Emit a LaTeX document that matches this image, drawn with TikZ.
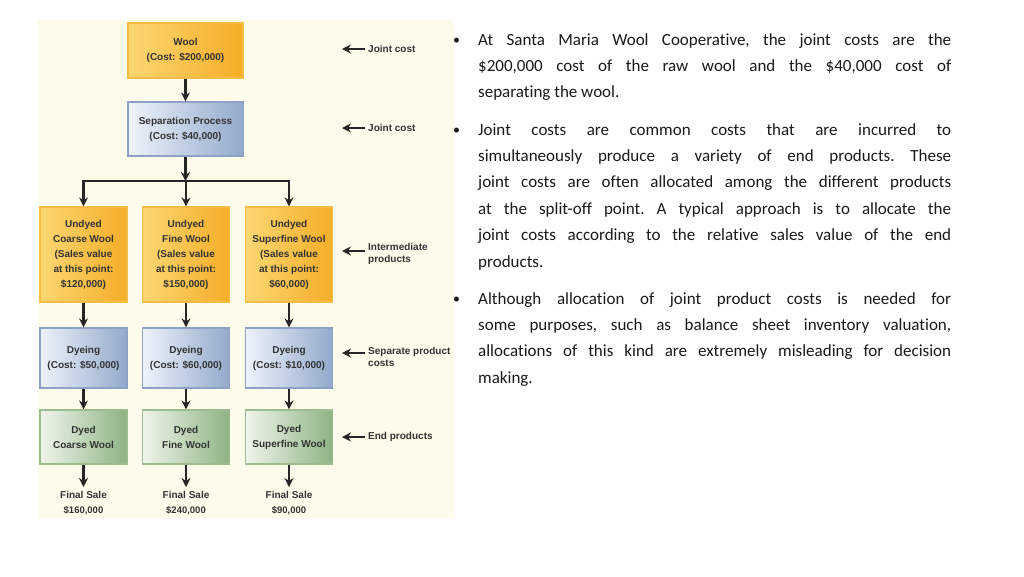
\documentclass[tikz,border=0pt]{standalone}
\usepackage{fontspec}
\setmainfont{Carlito}[Ligatures=NoCommon]
\newfontfamily\diagfont{Liberation Sans}
\usetikzlibrary{arrows.meta}
\definecolor{panel}{HTML}{FDFBEA}
\definecolor{orL}{HTML}{FCD772}
\definecolor{orR}{HTML}{F5AD27}
\definecolor{orB}{HTML}{F6BC45}
\definecolor{blL}{HTML}{EEF3FA}
\definecolor{blR}{HTML}{93A9CC}
\definecolor{blB}{HTML}{8DA2C6}
\definecolor{grL}{HTML}{EFF5EB}
\definecolor{grR}{HTML}{8EB384}
\definecolor{grB}{HTML}{9CBC90}
\definecolor{boxtext}{HTML}{333333}
\definecolor{bodytext}{HTML}{1A1A1A}
\tikzset{
  box/.style={inner sep=0pt, align=center, font=\diagfont\bfseries\fontsize{10}{15}\selectfont,
    text=boxtext, line width=1.2pt},
  orangebox/.style={box, draw=orB, left color=orL, right color=orR},
  bluebox/.style={box, draw=blB, left color=blL, right color=blR},
  greenbox/.style={box, draw=grB, left color=grL, right color=grR},
  lbl/.style={inner sep=0pt, anchor=west, align=left, font=\diagfont\bfseries\fontsize{10}{12.5}\selectfont, text=boxtext},
  flow/.style={line width=2.4pt, draw=black!85, -{Stealth[length=9pt,width=9pt]}},
  bar/.style={line width=2.4pt, draw=black!85},
  bullettext/.style={inner sep=0pt, anchor=base west, text=bodytext}
}
\begin{document}
\begin{tikzpicture}[x=1pt,y=-1pt]
\useasboundingbox (0,0) rectangle (1024,576);
\fill[white] (0,0) rectangle (1024,576);
\fill[panel] (38,20) rectangle (454,518);

% top boxes
\node[orangebox, minimum width=115pt, minimum height=55pt] (wool) at (185.5,50.5) {Wool\\(Cost: \$200,000)};
\node[bluebox, minimum width=115pt, minimum height=54pt] (sep) at (185.5,129) {Separation Process\\(Cost: \$40,000)};

% undyed
\node[orangebox, minimum width=87pt, minimum height=95pt] (u1) at (83.5,254.5) {Undyed\\Coarse Wool\\(Sales value\\at this point:\\\$120,000)};
\node[orangebox, minimum width=87pt, minimum height=95pt] (u2) at (186,254.5) {Undyed\\Fine Wool\\(Sales value\\at this point:\\\$150,000)};
\node[orangebox, minimum width=87pt, minimum height=95pt] (u3) at (289,254.5) {Undyed\\Superfine Wool\\(Sales value\\at this point:\\\$60,000)};

% dyeing
\node[bluebox, minimum width=87pt, minimum height=60pt] (d1) at (83.5,358) {Dyeing\\(Cost: \$50,000)};
\node[bluebox, minimum width=87pt, minimum height=60pt] (d2) at (186,358) {Dyeing\\(Cost: \$60,000)};
\node[bluebox, minimum width=87pt, minimum height=60pt] (d3) at (289,358) {Dyeing\\(Cost: \$10,000)};

% dyed
\node[greenbox, minimum width=87pt, minimum height=54pt] (e1) at (83.5,437) {Dyed\\Coarse Wool};
\node[greenbox, minimum width=87pt, minimum height=54pt] (e2) at (186,437) {Dyed\\Fine Wool};
\node[greenbox, minimum width=87pt, minimum height=54pt] (e3) at (289,437) {Dyed\\Superfine Wool};

% final sales
\node[box, anchor=north] (f1) at (83.5,491) {Final Sale\\[0pt]{\fontsize{9.5}{10}\selectfont\$160,000}};
\node[box, anchor=north] (f2) at (186,491) {Final Sale\\[0pt]{\fontsize{9.5}{10}\selectfont\$240,000}};
\node[box, anchor=north] (f3) at (289,491) {Final Sale\\[0pt]{\fontsize{9.5}{10}\selectfont\$90,000}};

% flow arrows
\draw[flow] (wool.south) -- (sep.north);
\coordinate (split) at (185.5,181);
\coordinate (s1) at (83.5,181);
\coordinate (s3) at (289,181);
\draw[flow] (sep.south) -- (split);
\draw[bar] ([xshift=-1.2pt]s1) -- ([xshift=1.2pt]s3);
\draw[flow] (s1) -- (u1.north);
\draw[flow] (u2.north |- split) -- (u2.north);
\draw[flow] (s3) -- (u3.north);
\foreach \i in {1,2,3}{
  \draw[flow] (u\i.south) -- (d\i.north);
  \draw[flow] (d\i.south) -- (e\i.north);
  \draw[flow] (e\i.south) -- ([yshift=4pt]f\i.north);
}

% side labels
\node[lbl] (l1) at (368,49) {Joint cost};
\node[lbl] (l2) at (368,128) {Joint cost};
\node[lbl] (l3) at (368,254) {Intermediate\\products};
\node[lbl] (l4) at (368,357) {Separate product\\costs};
\node[lbl] (l5) at (368,437) {End products};
\foreach \j/\y in {1/49,2/128,3/251,4/353,5/437}{
  \coordinate (t\j) at (342,\y);
  \draw[flow] ([xshift=-3pt]l\j.west |- t\j) -- (t\j);
}

% bullets
\node[bullettext, font=\fontsize{14}{14}\selectfont] (b1dot) at (453,44) {\textbullet};
\node[bullettext] (b1) at (478,45) {\parbox[t]{473pt}{\fontsize{17}{26.4}\selectfont\frenchspacing\hyphenpenalty=10000 At Santa Maria Wool Cooperative, the joint costs are the\linebreak \$200,000 cost of the raw wool and the \$40,000 cost of\linebreak separating the wool.}};
\node[bullettext, font=\fontsize{14}{14}\selectfont] (b2dot) at (453,134) {\textbullet};
\node[bullettext] (b2) at (478,135) {\parbox[t]{473pt}{\fontsize{17}{26.4}\selectfont\frenchspacing\hyphenpenalty=10000 Joint costs are common costs that are incurred to\linebreak simultaneously produce a variety of end products. These\linebreak joint costs are often allocated among the different products\linebreak at the split-off point. A typical approach is to allocate the\linebreak joint costs according to the relative sales value of the end\linebreak products.}};
\node[bullettext, font=\fontsize{14}{14}\selectfont] (b3dot) at (453,303) {\textbullet};
\node[bullettext] (b3) at (478,304) {\parbox[t]{473pt}{\fontsize{17}{26.4}\selectfont\frenchspacing\hyphenpenalty=10000 Although allocation of joint product costs is needed for\linebreak some purposes, such as balance sheet inventory valuation,\linebreak allocations of this kind are extremely misleading for decision\linebreak making.}};
\end{tikzpicture}
\end{document}
